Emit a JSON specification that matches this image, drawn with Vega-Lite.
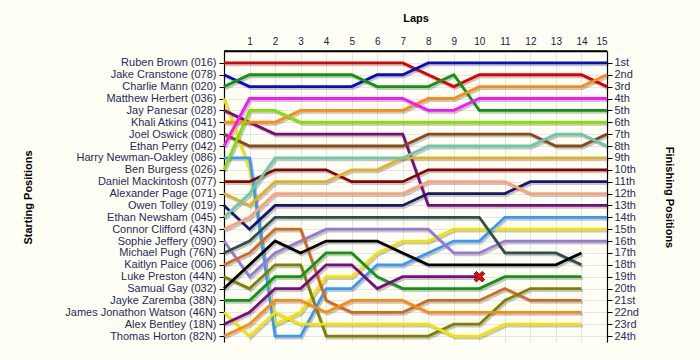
{
 "$schema": "https://vega.github.io/schema/vega-lite/v6.json",
 "width": 383, "height": 291,
 "autosize": {"type": "none"},
 "padding": {"left": 224, "top": 51, "right": 93, "bottom": 18},
 "background": "#FFFFF5",
 "config": {"view": {"stroke": null},
  "axis": {"labelFont": "Liberation Sans", "titleFont": "Liberation Sans", "labelFontSize": 11, "titleFontSize": 11, "titleFontWeight": "bold", "titleColor": "#000000", "domainColor": "#000000", "domainWidth": 1.2, "tickColor": "#000000", "gridColor": "#E6E6E6", "labelColor": "#1E2A5A"}},
 "data": {"values": [
{"driver":"Ruben Brown (016)","lap":0,"pos":1},{"driver":"Ruben Brown (016)","lap":1,"pos":1},{"driver":"Ruben Brown (016)","lap":2,"pos":1},{"driver":"Ruben Brown (016)","lap":3,"pos":1},{"driver":"Ruben Brown (016)","lap":4,"pos":1},{"driver":"Ruben Brown (016)","lap":5,"pos":1},{"driver":"Ruben Brown (016)","lap":6,"pos":1},{"driver":"Ruben Brown (016)","lap":7,"pos":1},{"driver":"Ruben Brown (016)","lap":8,"pos":2},{"driver":"Ruben Brown (016)","lap":9,"pos":3},{"driver":"Ruben Brown (016)","lap":10,"pos":2},{"driver":"Ruben Brown (016)","lap":11,"pos":2},{"driver":"Ruben Brown (016)","lap":12,"pos":2},{"driver":"Ruben Brown (016)","lap":13,"pos":2},{"driver":"Ruben Brown (016)","lap":14,"pos":2},{"driver":"Ruben Brown (016)","lap":15,"pos":3},
{"driver":"Jake Cranstone (078)","lap":0,"pos":2},{"driver":"Jake Cranstone (078)","lap":1,"pos":3},{"driver":"Jake Cranstone (078)","lap":2,"pos":3},{"driver":"Jake Cranstone (078)","lap":3,"pos":3},{"driver":"Jake Cranstone (078)","lap":4,"pos":3},{"driver":"Jake Cranstone (078)","lap":5,"pos":3},{"driver":"Jake Cranstone (078)","lap":6,"pos":2},{"driver":"Jake Cranstone (078)","lap":7,"pos":2},{"driver":"Jake Cranstone (078)","lap":8,"pos":1},{"driver":"Jake Cranstone (078)","lap":9,"pos":1},{"driver":"Jake Cranstone (078)","lap":10,"pos":1},{"driver":"Jake Cranstone (078)","lap":11,"pos":1},{"driver":"Jake Cranstone (078)","lap":12,"pos":1},{"driver":"Jake Cranstone (078)","lap":13,"pos":1},{"driver":"Jake Cranstone (078)","lap":14,"pos":1},{"driver":"Jake Cranstone (078)","lap":15,"pos":1},
{"driver":"Charlie Mann (020)","lap":0,"pos":3},{"driver":"Charlie Mann (020)","lap":1,"pos":2},{"driver":"Charlie Mann (020)","lap":2,"pos":2},{"driver":"Charlie Mann (020)","lap":3,"pos":2},{"driver":"Charlie Mann (020)","lap":4,"pos":2},{"driver":"Charlie Mann (020)","lap":5,"pos":2},{"driver":"Charlie Mann (020)","lap":6,"pos":3},{"driver":"Charlie Mann (020)","lap":7,"pos":3},{"driver":"Charlie Mann (020)","lap":8,"pos":3},{"driver":"Charlie Mann (020)","lap":9,"pos":2},{"driver":"Charlie Mann (020)","lap":10,"pos":5},{"driver":"Charlie Mann (020)","lap":11,"pos":5},{"driver":"Charlie Mann (020)","lap":12,"pos":5},{"driver":"Charlie Mann (020)","lap":13,"pos":5},{"driver":"Charlie Mann (020)","lap":14,"pos":5},{"driver":"Charlie Mann (020)","lap":15,"pos":5},
{"driver":"Matthew Herbert (036)","lap":0,"pos":4},{"driver":"Matthew Herbert (036)","lap":1,"pos":10},{"driver":"Matthew Herbert (036)","lap":2,"pos":23},{"driver":"Matthew Herbert (036)","lap":3,"pos":22},{"driver":"Matthew Herbert (036)","lap":4,"pos":19},{"driver":"Matthew Herbert (036)","lap":5,"pos":19},{"driver":"Matthew Herbert (036)","lap":6,"pos":17},{"driver":"Matthew Herbert (036)","lap":7,"pos":16},{"driver":"Matthew Herbert (036)","lap":8,"pos":16},{"driver":"Matthew Herbert (036)","lap":9,"pos":15},{"driver":"Matthew Herbert (036)","lap":10,"pos":15},{"driver":"Matthew Herbert (036)","lap":11,"pos":15},{"driver":"Matthew Herbert (036)","lap":12,"pos":15},{"driver":"Matthew Herbert (036)","lap":13,"pos":15},{"driver":"Matthew Herbert (036)","lap":14,"pos":15},{"driver":"Matthew Herbert (036)","lap":15,"pos":15},
{"driver":"Jay Panesar (028)","lap":0,"pos":5},{"driver":"Jay Panesar (028)","lap":1,"pos":6},{"driver":"Jay Panesar (028)","lap":2,"pos":7},{"driver":"Jay Panesar (028)","lap":3,"pos":7},{"driver":"Jay Panesar (028)","lap":4,"pos":7},{"driver":"Jay Panesar (028)","lap":5,"pos":7},{"driver":"Jay Panesar (028)","lap":6,"pos":7},{"driver":"Jay Panesar (028)","lap":7,"pos":7},{"driver":"Jay Panesar (028)","lap":8,"pos":13},{"driver":"Jay Panesar (028)","lap":9,"pos":13},{"driver":"Jay Panesar (028)","lap":10,"pos":13},{"driver":"Jay Panesar (028)","lap":11,"pos":13},{"driver":"Jay Panesar (028)","lap":12,"pos":13},{"driver":"Jay Panesar (028)","lap":13,"pos":13},{"driver":"Jay Panesar (028)","lap":14,"pos":13},{"driver":"Jay Panesar (028)","lap":15,"pos":13},
{"driver":"Khali Atkins (041)","lap":0,"pos":6},{"driver":"Khali Atkins (041)","lap":1,"pos":6},{"driver":"Khali Atkins (041)","lap":2,"pos":6},{"driver":"Khali Atkins (041)","lap":3,"pos":5},{"driver":"Khali Atkins (041)","lap":4,"pos":5},{"driver":"Khali Atkins (041)","lap":5,"pos":5},{"driver":"Khali Atkins (041)","lap":6,"pos":5},{"driver":"Khali Atkins (041)","lap":7,"pos":5},{"driver":"Khali Atkins (041)","lap":8,"pos":4},{"driver":"Khali Atkins (041)","lap":9,"pos":4},{"driver":"Khali Atkins (041)","lap":10,"pos":3},{"driver":"Khali Atkins (041)","lap":11,"pos":3},{"driver":"Khali Atkins (041)","lap":12,"pos":3},{"driver":"Khali Atkins (041)","lap":13,"pos":3},{"driver":"Khali Atkins (041)","lap":14,"pos":3},{"driver":"Khali Atkins (041)","lap":15,"pos":2},
{"driver":"Joel Oswick (080)","lap":0,"pos":7},{"driver":"Joel Oswick (080)","lap":1,"pos":8},{"driver":"Joel Oswick (080)","lap":2,"pos":8},{"driver":"Joel Oswick (080)","lap":3,"pos":8},{"driver":"Joel Oswick (080)","lap":4,"pos":8},{"driver":"Joel Oswick (080)","lap":5,"pos":8},{"driver":"Joel Oswick (080)","lap":6,"pos":8},{"driver":"Joel Oswick (080)","lap":7,"pos":8},{"driver":"Joel Oswick (080)","lap":8,"pos":7},{"driver":"Joel Oswick (080)","lap":9,"pos":7},{"driver":"Joel Oswick (080)","lap":10,"pos":7},{"driver":"Joel Oswick (080)","lap":11,"pos":7},{"driver":"Joel Oswick (080)","lap":12,"pos":7},{"driver":"Joel Oswick (080)","lap":13,"pos":8},{"driver":"Joel Oswick (080)","lap":14,"pos":8},{"driver":"Joel Oswick (080)","lap":15,"pos":7},
{"driver":"Ethan Perry (042)","lap":0,"pos":8},{"driver":"Ethan Perry (042)","lap":1,"pos":4},{"driver":"Ethan Perry (042)","lap":2,"pos":4},{"driver":"Ethan Perry (042)","lap":3,"pos":4},{"driver":"Ethan Perry (042)","lap":4,"pos":4},{"driver":"Ethan Perry (042)","lap":5,"pos":4},{"driver":"Ethan Perry (042)","lap":6,"pos":4},{"driver":"Ethan Perry (042)","lap":7,"pos":4},{"driver":"Ethan Perry (042)","lap":8,"pos":5},{"driver":"Ethan Perry (042)","lap":9,"pos":5},{"driver":"Ethan Perry (042)","lap":10,"pos":4},{"driver":"Ethan Perry (042)","lap":11,"pos":4},{"driver":"Ethan Perry (042)","lap":12,"pos":4},{"driver":"Ethan Perry (042)","lap":13,"pos":4},{"driver":"Ethan Perry (042)","lap":14,"pos":4},{"driver":"Ethan Perry (042)","lap":15,"pos":4},
{"driver":"Harry Newman-Oakley (086)","lap":0,"pos":9},{"driver":"Harry Newman-Oakley (086)","lap":1,"pos":9},{"driver":"Harry Newman-Oakley (086)","lap":2,"pos":24},{"driver":"Harry Newman-Oakley (086)","lap":3,"pos":24},{"driver":"Harry Newman-Oakley (086)","lap":4,"pos":20},{"driver":"Harry Newman-Oakley (086)","lap":5,"pos":20},{"driver":"Harry Newman-Oakley (086)","lap":6,"pos":18},{"driver":"Harry Newman-Oakley (086)","lap":7,"pos":18},{"driver":"Harry Newman-Oakley (086)","lap":8,"pos":17},{"driver":"Harry Newman-Oakley (086)","lap":9,"pos":16},{"driver":"Harry Newman-Oakley (086)","lap":10,"pos":16},{"driver":"Harry Newman-Oakley (086)","lap":11,"pos":14},{"driver":"Harry Newman-Oakley (086)","lap":12,"pos":14},{"driver":"Harry Newman-Oakley (086)","lap":13,"pos":14},{"driver":"Harry Newman-Oakley (086)","lap":14,"pos":14},{"driver":"Harry Newman-Oakley (086)","lap":15,"pos":14},
{"driver":"Ben Burgess (026)","lap":0,"pos":10},{"driver":"Ben Burgess (026)","lap":1,"pos":5},{"driver":"Ben Burgess (026)","lap":2,"pos":5},{"driver":"Ben Burgess (026)","lap":3,"pos":6},{"driver":"Ben Burgess (026)","lap":4,"pos":6},{"driver":"Ben Burgess (026)","lap":5,"pos":6},{"driver":"Ben Burgess (026)","lap":6,"pos":6},{"driver":"Ben Burgess (026)","lap":7,"pos":6},{"driver":"Ben Burgess (026)","lap":8,"pos":6},{"driver":"Ben Burgess (026)","lap":9,"pos":6},{"driver":"Ben Burgess (026)","lap":10,"pos":6},{"driver":"Ben Burgess (026)","lap":11,"pos":6},{"driver":"Ben Burgess (026)","lap":12,"pos":6},{"driver":"Ben Burgess (026)","lap":13,"pos":6},{"driver":"Ben Burgess (026)","lap":14,"pos":6},{"driver":"Ben Burgess (026)","lap":15,"pos":6},
{"driver":"Daniel Mackintosh (077)","lap":0,"pos":11},{"driver":"Daniel Mackintosh (077)","lap":1,"pos":11},{"driver":"Daniel Mackintosh (077)","lap":2,"pos":10},{"driver":"Daniel Mackintosh (077)","lap":3,"pos":10},{"driver":"Daniel Mackintosh (077)","lap":4,"pos":10},{"driver":"Daniel Mackintosh (077)","lap":5,"pos":11},{"driver":"Daniel Mackintosh (077)","lap":6,"pos":11},{"driver":"Daniel Mackintosh (077)","lap":7,"pos":11},{"driver":"Daniel Mackintosh (077)","lap":8,"pos":10},{"driver":"Daniel Mackintosh (077)","lap":9,"pos":10},{"driver":"Daniel Mackintosh (077)","lap":10,"pos":10},{"driver":"Daniel Mackintosh (077)","lap":11,"pos":10},{"driver":"Daniel Mackintosh (077)","lap":12,"pos":10},{"driver":"Daniel Mackintosh (077)","lap":13,"pos":10},{"driver":"Daniel Mackintosh (077)","lap":14,"pos":10},{"driver":"Daniel Mackintosh (077)","lap":15,"pos":10},
{"driver":"Alexander Page (071)","lap":0,"pos":12},{"driver":"Alexander Page (071)","lap":1,"pos":13},{"driver":"Alexander Page (071)","lap":2,"pos":11},{"driver":"Alexander Page (071)","lap":3,"pos":11},{"driver":"Alexander Page (071)","lap":4,"pos":11},{"driver":"Alexander Page (071)","lap":5,"pos":10},{"driver":"Alexander Page (071)","lap":6,"pos":10},{"driver":"Alexander Page (071)","lap":7,"pos":9},{"driver":"Alexander Page (071)","lap":8,"pos":9},{"driver":"Alexander Page (071)","lap":9,"pos":9},{"driver":"Alexander Page (071)","lap":10,"pos":9},{"driver":"Alexander Page (071)","lap":11,"pos":9},{"driver":"Alexander Page (071)","lap":12,"pos":9},{"driver":"Alexander Page (071)","lap":13,"pos":9},{"driver":"Alexander Page (071)","lap":14,"pos":9},{"driver":"Alexander Page (071)","lap":15,"pos":9},
{"driver":"Owen Tolley (019)","lap":0,"pos":13},{"driver":"Owen Tolley (019)","lap":1,"pos":15},{"driver":"Owen Tolley (019)","lap":2,"pos":13},{"driver":"Owen Tolley (019)","lap":3,"pos":13},{"driver":"Owen Tolley (019)","lap":4,"pos":13},{"driver":"Owen Tolley (019)","lap":5,"pos":13},{"driver":"Owen Tolley (019)","lap":6,"pos":13},{"driver":"Owen Tolley (019)","lap":7,"pos":13},{"driver":"Owen Tolley (019)","lap":8,"pos":12},{"driver":"Owen Tolley (019)","lap":9,"pos":12},{"driver":"Owen Tolley (019)","lap":10,"pos":12},{"driver":"Owen Tolley (019)","lap":11,"pos":12},{"driver":"Owen Tolley (019)","lap":12,"pos":11},{"driver":"Owen Tolley (019)","lap":13,"pos":11},{"driver":"Owen Tolley (019)","lap":14,"pos":11},{"driver":"Owen Tolley (019)","lap":15,"pos":11},
{"driver":"Ethan Newsham (045)","lap":0,"pos":14},{"driver":"Ethan Newsham (045)","lap":1,"pos":12},{"driver":"Ethan Newsham (045)","lap":2,"pos":9},{"driver":"Ethan Newsham (045)","lap":3,"pos":9},{"driver":"Ethan Newsham (045)","lap":4,"pos":9},{"driver":"Ethan Newsham (045)","lap":5,"pos":9},{"driver":"Ethan Newsham (045)","lap":6,"pos":9},{"driver":"Ethan Newsham (045)","lap":7,"pos":9},{"driver":"Ethan Newsham (045)","lap":8,"pos":8},{"driver":"Ethan Newsham (045)","lap":9,"pos":8},{"driver":"Ethan Newsham (045)","lap":10,"pos":8},{"driver":"Ethan Newsham (045)","lap":11,"pos":8},{"driver":"Ethan Newsham (045)","lap":12,"pos":8},{"driver":"Ethan Newsham (045)","lap":13,"pos":7},{"driver":"Ethan Newsham (045)","lap":14,"pos":7},{"driver":"Ethan Newsham (045)","lap":15,"pos":8},
{"driver":"Connor Clifford (43N)","lap":0,"pos":15},{"driver":"Connor Clifford (43N)","lap":1,"pos":14},{"driver":"Connor Clifford (43N)","lap":2,"pos":12},{"driver":"Connor Clifford (43N)","lap":3,"pos":12},{"driver":"Connor Clifford (43N)","lap":4,"pos":12},{"driver":"Connor Clifford (43N)","lap":5,"pos":12},{"driver":"Connor Clifford (43N)","lap":6,"pos":12},{"driver":"Connor Clifford (43N)","lap":7,"pos":12},{"driver":"Connor Clifford (43N)","lap":8,"pos":11},{"driver":"Connor Clifford (43N)","lap":9,"pos":11},{"driver":"Connor Clifford (43N)","lap":10,"pos":11},{"driver":"Connor Clifford (43N)","lap":11,"pos":11},{"driver":"Connor Clifford (43N)","lap":12,"pos":12},{"driver":"Connor Clifford (43N)","lap":13,"pos":12},{"driver":"Connor Clifford (43N)","lap":14,"pos":12},{"driver":"Connor Clifford (43N)","lap":15,"pos":12},
{"driver":"Sophie Jeffery (090)","lap":0,"pos":16},{"driver":"Sophie Jeffery (090)","lap":1,"pos":19},{"driver":"Sophie Jeffery (090)","lap":2,"pos":17},{"driver":"Sophie Jeffery (090)","lap":3,"pos":16},{"driver":"Sophie Jeffery (090)","lap":4,"pos":15},{"driver":"Sophie Jeffery (090)","lap":5,"pos":15},{"driver":"Sophie Jeffery (090)","lap":6,"pos":15},{"driver":"Sophie Jeffery (090)","lap":7,"pos":15},{"driver":"Sophie Jeffery (090)","lap":8,"pos":15},{"driver":"Sophie Jeffery (090)","lap":9,"pos":17},{"driver":"Sophie Jeffery (090)","lap":10,"pos":17},{"driver":"Sophie Jeffery (090)","lap":11,"pos":16},{"driver":"Sophie Jeffery (090)","lap":12,"pos":16},{"driver":"Sophie Jeffery (090)","lap":13,"pos":16},{"driver":"Sophie Jeffery (090)","lap":14,"pos":16},{"driver":"Sophie Jeffery (090)","lap":15,"pos":16},
{"driver":"Michael Pugh (76N)","lap":0,"pos":17},{"driver":"Michael Pugh (76N)","lap":1,"pos":16},{"driver":"Michael Pugh (76N)","lap":2,"pos":14},{"driver":"Michael Pugh (76N)","lap":3,"pos":14},{"driver":"Michael Pugh (76N)","lap":4,"pos":14},{"driver":"Michael Pugh (76N)","lap":5,"pos":14},{"driver":"Michael Pugh (76N)","lap":6,"pos":14},{"driver":"Michael Pugh (76N)","lap":7,"pos":14},{"driver":"Michael Pugh (76N)","lap":8,"pos":14},{"driver":"Michael Pugh (76N)","lap":9,"pos":14},{"driver":"Michael Pugh (76N)","lap":10,"pos":14},{"driver":"Michael Pugh (76N)","lap":11,"pos":17},{"driver":"Michael Pugh (76N)","lap":12,"pos":17},{"driver":"Michael Pugh (76N)","lap":13,"pos":17},{"driver":"Michael Pugh (76N)","lap":14,"pos":18},
{"driver":"Kaitlyn Paice (006)","lap":0,"pos":18},{"driver":"Kaitlyn Paice (006)","lap":1,"pos":17},{"driver":"Kaitlyn Paice (006)","lap":2,"pos":15},{"driver":"Kaitlyn Paice (006)","lap":3,"pos":15},{"driver":"Kaitlyn Paice (006)","lap":4,"pos":21},{"driver":"Kaitlyn Paice (006)","lap":5,"pos":22},{"driver":"Kaitlyn Paice (006)","lap":6,"pos":22},{"driver":"Kaitlyn Paice (006)","lap":7,"pos":22},{"driver":"Kaitlyn Paice (006)","lap":8,"pos":21},{"driver":"Kaitlyn Paice (006)","lap":9,"pos":21},{"driver":"Kaitlyn Paice (006)","lap":10,"pos":21},{"driver":"Kaitlyn Paice (006)","lap":11,"pos":20},{"driver":"Kaitlyn Paice (006)","lap":12,"pos":21},{"driver":"Kaitlyn Paice (006)","lap":13,"pos":21},{"driver":"Kaitlyn Paice (006)","lap":14,"pos":21},
{"driver":"Luke Preston (44N)","lap":0,"pos":19},{"driver":"Luke Preston (44N)","lap":1,"pos":20},{"driver":"Luke Preston (44N)","lap":2,"pos":18},{"driver":"Luke Preston (44N)","lap":3,"pos":18},{"driver":"Luke Preston (44N)","lap":4,"pos":24},{"driver":"Luke Preston (44N)","lap":5,"pos":24},{"driver":"Luke Preston (44N)","lap":6,"pos":24},{"driver":"Luke Preston (44N)","lap":7,"pos":24},{"driver":"Luke Preston (44N)","lap":8,"pos":24},{"driver":"Luke Preston (44N)","lap":9,"pos":23},{"driver":"Luke Preston (44N)","lap":10,"pos":23},{"driver":"Luke Preston (44N)","lap":11,"pos":21},{"driver":"Luke Preston (44N)","lap":12,"pos":20},{"driver":"Luke Preston (44N)","lap":13,"pos":20},{"driver":"Luke Preston (44N)","lap":14,"pos":20},
{"driver":"Samual Gay (032)","lap":0,"pos":20},{"driver":"Samual Gay (032)","lap":1,"pos":18},{"driver":"Samual Gay (032)","lap":2,"pos":16},{"driver":"Samual Gay (032)","lap":3,"pos":17},{"driver":"Samual Gay (032)","lap":4,"pos":16},{"driver":"Samual Gay (032)","lap":5,"pos":16},{"driver":"Samual Gay (032)","lap":6,"pos":16},{"driver":"Samual Gay (032)","lap":7,"pos":17},{"driver":"Samual Gay (032)","lap":8,"pos":18},{"driver":"Samual Gay (032)","lap":9,"pos":18},{"driver":"Samual Gay (032)","lap":10,"pos":18},{"driver":"Samual Gay (032)","lap":11,"pos":18},{"driver":"Samual Gay (032)","lap":12,"pos":18},{"driver":"Samual Gay (032)","lap":13,"pos":18},{"driver":"Samual Gay (032)","lap":14,"pos":17},
{"driver":"Jayke Zaremba (38N)","lap":0,"pos":21},{"driver":"Jayke Zaremba (38N)","lap":1,"pos":21},{"driver":"Jayke Zaremba (38N)","lap":2,"pos":19},{"driver":"Jayke Zaremba (38N)","lap":3,"pos":19},{"driver":"Jayke Zaremba (38N)","lap":4,"pos":17},{"driver":"Jayke Zaremba (38N)","lap":5,"pos":17},{"driver":"Jayke Zaremba (38N)","lap":6,"pos":19},{"driver":"Jayke Zaremba (38N)","lap":7,"pos":20},{"driver":"Jayke Zaremba (38N)","lap":8,"pos":20},{"driver":"Jayke Zaremba (38N)","lap":9,"pos":20},{"driver":"Jayke Zaremba (38N)","lap":10,"pos":20},{"driver":"Jayke Zaremba (38N)","lap":11,"pos":19},{"driver":"Jayke Zaremba (38N)","lap":12,"pos":19},{"driver":"Jayke Zaremba (38N)","lap":13,"pos":19},{"driver":"Jayke Zaremba (38N)","lap":14,"pos":19},
{"driver":"James Jonathon Watson (46N)","lap":0,"pos":22},{"driver":"James Jonathon Watson (46N)","lap":1,"pos":24},{"driver":"James Jonathon Watson (46N)","lap":2,"pos":22},{"driver":"James Jonathon Watson (46N)","lap":3,"pos":23},{"driver":"James Jonathon Watson (46N)","lap":4,"pos":23},{"driver":"James Jonathon Watson (46N)","lap":5,"pos":23},{"driver":"James Jonathon Watson (46N)","lap":6,"pos":23},{"driver":"James Jonathon Watson (46N)","lap":7,"pos":23},{"driver":"James Jonathon Watson (46N)","lap":8,"pos":23},{"driver":"James Jonathon Watson (46N)","lap":9,"pos":24},{"driver":"James Jonathon Watson (46N)","lap":10,"pos":24},{"driver":"James Jonathon Watson (46N)","lap":11,"pos":23},{"driver":"James Jonathon Watson (46N)","lap":12,"pos":23},{"driver":"James Jonathon Watson (46N)","lap":13,"pos":23},{"driver":"James Jonathon Watson (46N)","lap":14,"pos":23},
{"driver":"Alex Bentley (18N)","lap":0,"pos":23},{"driver":"Alex Bentley (18N)","lap":1,"pos":22},{"driver":"Alex Bentley (18N)","lap":2,"pos":20},{"driver":"Alex Bentley (18N)","lap":3,"pos":20},{"driver":"Alex Bentley (18N)","lap":4,"pos":18},{"driver":"Alex Bentley (18N)","lap":5,"pos":18},{"driver":"Alex Bentley (18N)","lap":6,"pos":20},{"driver":"Alex Bentley (18N)","lap":7,"pos":19},{"driver":"Alex Bentley (18N)","lap":8,"pos":19},{"driver":"Alex Bentley (18N)","lap":9,"pos":19},{"driver":"Alex Bentley (18N)","lap":10,"pos":19},
{"driver":"Thomas Horton (82N)","lap":0,"pos":24},{"driver":"Thomas Horton (82N)","lap":1,"pos":23},{"driver":"Thomas Horton (82N)","lap":2,"pos":21},{"driver":"Thomas Horton (82N)","lap":3,"pos":21},{"driver":"Thomas Horton (82N)","lap":4,"pos":22},{"driver":"Thomas Horton (82N)","lap":5,"pos":21},{"driver":"Thomas Horton (82N)","lap":6,"pos":21},{"driver":"Thomas Horton (82N)","lap":7,"pos":21},{"driver":"Thomas Horton (82N)","lap":8,"pos":22},{"driver":"Thomas Horton (82N)","lap":9,"pos":22},{"driver":"Thomas Horton (82N)","lap":10,"pos":22},{"driver":"Thomas Horton (82N)","lap":11,"pos":22},{"driver":"Thomas Horton (82N)","lap":12,"pos":22},{"driver":"Thomas Horton (82N)","lap":13,"pos":22},{"driver":"Thomas Horton (82N)","lap":14,"pos":22}
 ]},
 "layer": [
  {
   "mark": {"type": "line", "strokeWidth": 2.8, "color": "#000000", "opacity": 0.22, "xOffset": 1.5, "yOffset": 2},
   "encoding": {
    "x": {"field": "lap", "type": "quantitative", "scale": {"domain": [0, 15], "nice": false, "zero": false},
      "axis": {"orient": "top", "title": "Laps", "values": [1,2,3,4,5,6,7,8,9,10,11,12,13,14,15], "domain": true, "domainColor": "#000000", "domainWidth": 1.5, "ticks": false, "labelPadding": 5, "labelFontSize": 10, "labelColor": "#1a1a3a", "grid": true, "titleY": -33, "titleBaseline": "middle", "titleAlign": "center"}},
    "y": {"field": "pos", "type": "quantitative", "scale": {"domain": [0, 24.5], "reverse": true, "nice": false, "zero": false}, "axis": null},
    "detail": {"field": "driver", "type": "nominal"}
   }
  },
  {
   "mark": {"type": "line", "strokeWidth": 2.8},
   "encoding": {
    "x": {"field": "lap", "type": "quantitative", "scale": {"domain": [0, 15], "nice": false, "zero": false},
      "axis": {"orient": "top", "title": "Laps", "values": [1,2,3,4,5,6,7,8,9,10,11,12,13,14,15], "domain": true, "domainColor": "#000000", "domainWidth": 1.5, "ticks": false, "labelPadding": 5, "labelFontSize": 10, "labelColor": "#1a1a3a", "grid": true, "titleY": -33, "titleBaseline": "middle", "titleAlign": "center"}},
    "y": {"field": "pos", "type": "quantitative", "scale": {"domain": [0, 24.5], "reverse": true, "nice": false, "zero": false},
      "axis": {"orient": "left", "title": "Starting Positions", "values": [1,2,3,4,5,6,7,8,9,10,11,12,13,14,15,16,17,18,19,20,21,22,23,24], "tickSize": 5, "labelPadding": 3, "grid": true,
        "labelExpr": "['', 'Ruben Brown (016)', 'Jake Cranstone (078)', 'Charlie Mann (020)', 'Matthew Herbert (036)', 'Jay Panesar (028)', 'Khali Atkins (041)', 'Joel Oswick (080)', 'Ethan Perry (042)', 'Harry Newman-Oakley (086)', 'Ben Burgess (026)', 'Daniel Mackintosh (077)', 'Alexander Page (071)', 'Owen Tolley (019)', 'Ethan Newsham (045)', 'Connor Clifford (43N)', 'Sophie Jeffery (090)', 'Michael Pugh (76N)', 'Kaitlyn Paice (006)', 'Luke Preston (44N)', 'Samual Gay (032)', 'Jayke Zaremba (38N)', 'James Jonathon Watson (46N)', 'Alex Bentley (18N)', 'Thomas Horton (82N)'][datum.value]",
        "titleX": -196, "titleY": 146, "titleAngle": -90, "titleAlign": "center", "titleBaseline": "middle"}},
    "color": {"field": "driver", "type": "nominal", "legend": null,
      "scale": {"domain": ["Ruben Brown (016)", "Jake Cranstone (078)", "Charlie Mann (020)", "Matthew Herbert (036)", "Jay Panesar (028)", "Khali Atkins (041)", "Joel Oswick (080)", "Ethan Perry (042)", "Harry Newman-Oakley (086)", "Ben Burgess (026)", "Daniel Mackintosh (077)", "Alexander Page (071)", "Owen Tolley (019)", "Ethan Newsham (045)", "Connor Clifford (43N)", "Sophie Jeffery (090)", "Michael Pugh (76N)", "Kaitlyn Paice (006)", "Luke Preston (44N)", "Samual Gay (032)", "Jayke Zaremba (38N)", "James Jonathon Watson (46N)", "Alex Bentley (18N)", "Thomas Horton (82N)"],
        "range": ["#DD0000", "#0A0ACC", "#0E960E", "#F2E400", "#7A0A80", "#FF8A10", "#8B4A14", "#FF10FF", "#3399FF", "#84E000", "#8B0000", "#E2B020", "#16166E", "#6CC8AC", "#FFA07A", "#9478DA", "#2F4F4F", "#D2691E", "#808000", "#000000", "#0E960E", "#F2E400", "#7A0A80", "#FF8A10"]}}
   }
  },
  {
   "data": {"values": [{"lap": 10, "pos": 19, "status": "retired"}]},
   "mark": {"type": "point", "filled": true, "shape": "M-1,-0.55L-0.55,-1L0,-0.45L0.55,-1L1,-0.55L0.45,0L1,0.55L0.55,1L0,0.45L-0.55,1L-1,0.55L-0.45,0Z", "size": 110, "fill": "#E01010", "stroke": "#7A0000", "strokeWidth": 1, "opacity": 1},
   "encoding": {
    "x": {"field": "lap", "type": "quantitative", "scale": {"domain": [0, 15], "nice": false, "zero": false},
      "axis": {"orient": "top", "title": "Laps", "values": [1,2,3,4,5,6,7,8,9,10,11,12,13,14,15], "domain": true, "domainColor": "#000000", "domainWidth": 1.5, "ticks": false, "labelPadding": 5, "labelFontSize": 10, "labelColor": "#1a1a3a", "grid": true, "titleY": -33, "titleBaseline": "middle", "titleAlign": "center"}},
    "y": {"field": "pos", "type": "quantitative", "scale": {"domain": [0, 24.5], "reverse": true, "nice": false, "zero": false},
      "axis": {"orient": "right", "title": "Finishing Positions", "values": [1,2,3,4,5,6,7,8,9,10,11,12,13,14,15,16,17,18,19,20,21,22,23,24], "tickSize": 5, "labelPadding": 2, "grid": false,
        "labelExpr": "datum.value + ((datum.value % 10 == 1 && datum.value != 11) ? 'st' : (datum.value % 10 == 2 && datum.value != 12) ? 'nd' : (datum.value % 10 == 3 && datum.value != 13) ? 'rd' : 'th')",
        "titleX": 61, "titleY": 146, "titleAngle": 90, "titleAlign": "center", "titleBaseline": "middle"}}
   }
  },
  {
   "data": {"values": [{"lap": 0, "lapEnd": 15, "pos": 0}]},
   "mark": {"type": "rule", "color": "#000000", "strokeWidth": 1.5},
   "encoding": {
    "x": {"field": "lap", "type": "quantitative", "scale": {"domain": [0, 15], "nice": false, "zero": false},
      "axis": {"orient": "top", "title": "Laps", "values": [1,2,3,4,5,6,7,8,9,10,11,12,13,14,15], "domain": true, "domainColor": "#000000", "domainWidth": 1.5, "ticks": false, "labelPadding": 5, "labelFontSize": 10, "labelColor": "#1a1a3a", "grid": true, "titleY": -33, "titleBaseline": "middle", "titleAlign": "center"}},
    "x2": {"field": "lapEnd"},
    "y": {"field": "pos", "type": "quantitative", "scale": {"domain": [0, 24.5], "reverse": true, "nice": false, "zero": false}, "axis": null}
   }
  }
 ],
 "resolve": {"axis": {"y": "independent"}}
}
